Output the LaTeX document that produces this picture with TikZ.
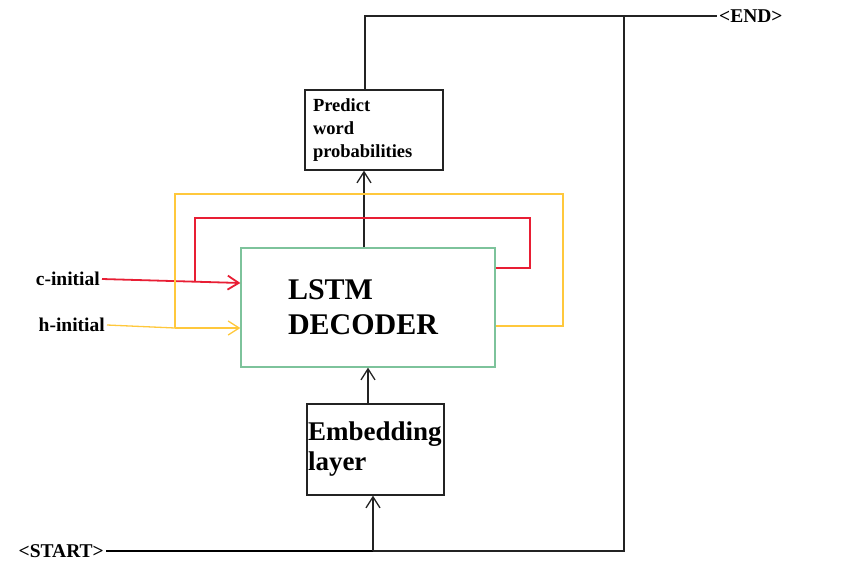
\documentclass[tikz,border=0pt]{standalone}
\usepackage{fontspec}
\setmainfont{Liberation Serif}
\usepackage{xcolor}
\usepackage{tikz}
\usetikzlibrary{arrows.meta}
\definecolor{lred}{RGB}{232, 30, 52}
\definecolor{lyellow}{RGB}{255, 200, 60}
\definecolor{lgreen}{RGB}{125, 195, 155}
\definecolor{dgray}{RGB}{35, 35, 35}
\tikzset{>={Straight Barb[length=11pt, width=14pt]}}
\tikzset{
  box/.style = {draw = dgray, line width = 1.3pt, align = left, inner sep = 0pt},
  lbl/.style = {font = \bfseries\fontsize{19.5}{22}\selectfont, inner sep = 2pt},
  redline/.style = {draw = lred, line width = 1.8pt},
  yelline/.style = {draw = lyellow, line width = 1.3pt}
}

\begin{document}
\begin{tikzpicture}[x = 1pt, y = -1pt]
  \useasboundingbox (0, 0) rectangle (849, 576);
  % boxes
  \node[box, minimum width = 138pt, minimum height = 80pt, text width = 122pt, font = \bfseries\fontsize{18.5}{23}\selectfont] (pred) at (374, 130){Predict\\word\\probabilities};
  \node[box, draw = lgreen, minimum width = 254pt, minimum height = 119pt, text width = 160pt, font = \bfseries\fontsize{30}{35}\selectfont] (lstm) at (368, 307.5){LSTM\\DECODER};
  \node[box, minimum width = 137pt, minimum height = 91pt, text width = 135pt, font = \bfseries\fontsize{27}{30}\selectfont] (emb) at (375.5, 449.5){Embedding\\layer};
  % labels
  \node[lbl, anchor = east] (cin) at (102, 279){c-initial};
  \node[lbl, anchor = east] (hin) at (107, 325){h-initial};
  \node[lbl, anchor = east] (start) at (106, 551){<START>};
  \node[lbl, anchor = west] (endl) at (717, 16){<END>};
  \coordinate (split) at (373, 551);
  \coordinate (ttop) at (624, 16);
  \coordinate (tbot) at (624, 551);
  \coordinate (cjoin) at (195, 281);
  \coordinate (hjoin) at (175, 328);
  % black connectors
  \draw[line width = 2.6pt] (start.east) -- (split);
  \draw[dgray, line width = 1.3pt] (split) -- (tbot) -- (ttop);
  \draw[dgray, line width = 1.3pt, ->] (split) -- (split |- emb.south);
  \draw[dgray, line width = 1.3pt, ->] (lstm.south |- emb.north) -- (lstm.south);
  \draw[dgray, line width = 1.3pt, ->] ([xshift = -4pt]lstm.north) -- ([xshift = -4pt]lstm.north |- pred.south);
  \draw[dgray, line width = 1.3pt] ([xshift = -9pt]pred.north) |- (endl.west);
  % cell and hidden state
  \draw[redline, ->] (cin.east) -- ([yshift = 24.5pt]lstm.west);
  \draw[redline] (cjoin) |- (530, 218) |- ([yshift = 39.5pt]lstm.east);
  \draw[yelline] (hin.east) -- (hjoin);
  \draw[yelline, ->] (hjoin) -- ([yshift = -20.5pt]lstm.west);
  \draw[yelline] (hjoin) |- (563, 194) |- ([yshift = -18.5pt]lstm.east);
\end{tikzpicture}
\end{document}
